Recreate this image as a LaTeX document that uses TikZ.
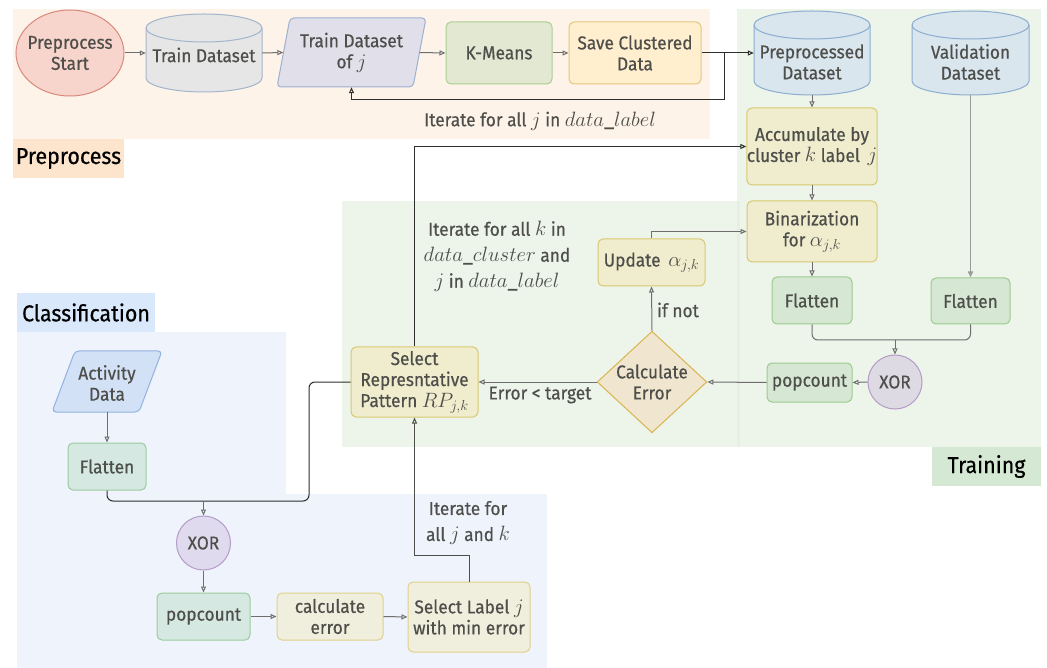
\documentclass[tikz,border=0pt]{standalone}
\usepackage{fontspec}
\setmainfont{Fira Sans}[UprightFeatures={FakeBold=0.5,FakeStretch=0.93}]
\usetikzlibrary{arrows.meta,shapes.geometric,calc}
\definecolor{txt}{HTML}{4E4E4A}
\definecolor{edge}{HTML}{6E6E6E}
\definecolor{dark}{HTML}{2E2E2E}
\definecolor{vline}{HTML}{9A9A9A}
\definecolor{pbg}{HTML}{FDF3E9}
\definecolor{plab}{HTML}{FDE4CC}
\definecolor{gbg}{HTML}{EDF4EA}
\definecolor{gseam}{HTML}{E6EFE2}
\definecolor{glab}{HTML}{D5E8D4}
\definecolor{bbg}{HTML}{EEF3FC}
\definecolor{blab}{HTML}{DAE8FC}
\definecolor{startf}{HTML}{F8D5CC}
\definecolor{startd}{HTML}{D9897B}
\definecolor{cylg}{HTML}{E6E6E6}
\definecolor{cylgd}{HTML}{A3B4CC}
\definecolor{paraf}{HTML}{E1DFEA}
\definecolor{parad}{HTML}{9DB0D0}
\definecolor{kmf}{HTML}{E3E8D2}
\definecolor{kmd}{HTML}{AACF90}
\definecolor{savef}{HTML}{FFEFCF}
\definecolor{saved}{HTML}{E5C57E}
\definecolor{cylb}{HTML}{D9E6EE}
\definecolor{cylbd}{HTML}{8DADD0}
\definecolor{yelf}{HTML}{EFEDCE}
\definecolor{yeld}{HTML}{D8C96F}
\definecolor{grnf}{HTML}{D6E8D3}
\definecolor{grnd}{HTML}{9CCB8D}
\definecolor{xorf}{HTML}{DDDAE4}
\definecolor{xord}{HTML}{B49CC6}
\definecolor{xorcf}{HTML}{E0DAEE}
\definecolor{diaf}{HTML}{F0E6CF}
\definecolor{diad}{HTML}{D9B44E}
\definecolor{actf}{HTML}{D3E1F7}
\definecolor{actd}{HTML}{92B2E0}
\definecolor{popcf}{HTML}{D5E8E2}
\definecolor{popcd}{HTML}{9BCB9C}
\definecolor{cerrf}{HTML}{F0EEDD}
\definecolor{cerrd}{HTML}{E0D18A}
\newcommand\mth[1]{{\fontsize{20.74}{24}\selectfont$#1$}}
\tikzset{
  base/.style={line width=1pt, align=center, text=txt, font=\fontsize{18.6}{21}\selectfont, inner sep=0pt},
  rbox/.style={base, draw, rounded corners=5pt},
  arr/.style={draw=edge, line width=1pt, -{Triangle[open,length=6pt,width=5pt]}},
  ln/.style={draw=edge, line width=1pt},
  dk/.style={draw=dark},
  lbl/.style={align=center, text=txt, font=\fontsize{18.6}{26}\selectfont, inner sep=0pt},
  reglabel/.style={font=\fontsize{23}{25}\selectfont, text=black, inner sep=0pt}
}
% cylinder: name, x1, y1, x2, y2, fill, draw
\newcommand\mycyl[7]{%
  \pgfmathsetmacro\cylrx{(#4-#2)/2}%
  \pgfmathsetmacro\cylta{#3+14}%
  \pgfmathsetmacro\cylba{#5-14}%
  \pgfmathsetmacro\cylcx{(#2+#4)/2}%
  \pgfmathsetmacro\cylcy{(#3+#5)/2}%
  \pgfmathsetmacro\cylw{#4-#2}%
  \pgfmathsetmacro\cylh{#5-#3}%
  \filldraw[fill=#6,draw=#7,line width=1pt] (#2,\cylta) -- (#2,\cylba)
     arc[start angle=180,end angle=0,x radius=\cylrx,y radius=14] -- (#4,\cylta)
     arc[start angle=0,end angle=-180,x radius=\cylrx,y radius=14] -- cycle;
  \draw[draw=#7,line width=1pt] (#4,\cylta) arc[start angle=0,end angle=180,x radius=\cylrx,y radius=14];
  \node[minimum width=\cylw, minimum height=\cylh, inner sep=0pt] (#1) at (\cylcx,\cylcy) {};%
}
% parallelogram: name, x1, y1, x2, y2, slant, fill, draw
\newcommand\mypara[8]{%
  \pgfmathsetmacro\parcx{(#2+#4)/2}%
  \pgfmathsetmacro\parcy{(#3+#5)/2}%
  \pgfmathsetmacro\parw{#4-#2}%
  \pgfmathsetmacro\parh{#5-#3}%
  \filldraw[fill=#7,draw=#8,line width=1pt,rounded corners=4pt] ({#2+#6},#3) -- (#4,#3) -- ({#4-#6},#5) -- (#2,#5) -- cycle;
  \node[minimum width=\parw, minimum height=\parh, inner sep=0pt] (#1) at (\parcx,\parcy) {};%
}
\begin{document}
\begin{tikzpicture}[x=1pt,y=-1pt]
\useasboundingbox (0,0) rectangle (1047,668);
\fill[white] (0,0) rectangle (1047,668);
% ---------- regions
\fill[pbg] (13,9) rectangle (710,139);
\node[reglabel, fill=plab, minimum width=111, minimum height=39] (plabel) at (68.5,158.5) {Preprocess};
\fill[gbg] (737,9) rectangle (1041,447);
\fill[gbg] (342,201) rectangle (737,447);
\fill[gseam] (737,201) rectangle (740,447);
\node[reglabel, fill=glab, minimum width=109, minimum height=39] (tlabel) at (986.5,466.5) {Training};
\fill[bbg] (17,332) rectangle (286,494);
\fill[bbg] (17,494) rectangle (547,668);
\node[reglabel, fill=blab, minimum width=138, minimum height=39] (clabel) at (86,312.5) {Classification};
% ---------- preprocess nodes
\filldraw[fill=startf, draw=startd, line width=1pt] (70,53) ellipse[x radius=54, y radius=43];
\node[base, minimum width=108, minimum height=86] (start) at (70,53) {Preprocess\\Start};
\mycyl{td}{146}{14}{262}{92}{cylg}{cylgd}
\node[base] (tdt) at (204,55) {Train Dataset};
\mypara{tdj}{277}{18}{426}{87}{13}{paraf}{parad}
\node[base] (tdjt) at (351.5,52.5) {Train Dataset\\of \mth{j}};
\node[rbox, fill=kmf, draw=kmd, minimum width=106, minimum height=62] (km) at (499,53) {K-Means};
\node[rbox, fill=savef, draw=saved, minimum width=132, minimum height=62] (save) at (635,53) {Save Clustered\\Data};
% ---------- training nodes
\mycyl{ppd}{754}{11}{870}{95}{cylb}{cylbd}
\node[base] (ppdt) at (812,62) {Preprocessed\\Dataset};
\mycyl{val}{912}{11}{1029}{95}{cylb}{cylbd}
\node[base] (valt) at (970.5,62) {Validation\\Dataset};
\node[rbox, fill=yelf, draw=yeld, minimum width=130, minimum height=77] (acc) at (812,146.5) {Accumulate by\\cluster \mth{k} label\, \mth{j}};
\node[rbox, fill=yelf, draw=yeld, minimum width=130, minimum height=61] (bin) at (812,231.5) {Binarization\\for \mth{\alpha_{j,k}}};
\node[rbox, fill=yelf, draw=yeld, minimum width=107, minimum height=47] (upd) at (651.5,262.5) {Update\, \mth{\alpha_{j,k}}};
\node[rbox, fill=grnf, draw=grnd, minimum width=80, minimum height=47] (flL) at (812,300.5) {Flatten};
\node[rbox, fill=grnf, draw=grnd, minimum width=79, minimum height=46] (flR) at (970.5,301) {Flatten};
\node[base, circle, draw=xord, fill=xorf, minimum size=54] (xorT) at (895,382) {XOR};
\node[rbox, fill=grnf, draw=grnd, minimum width=85, minimum height=39] (popT) at (809.5,382.5) {popcount};
\node[base, diamond, draw=diad, fill=diaf, minimum width=108, minimum height=100, aspect=1.08] (calc) at (652,382) {Calculate\\Error};
\node[rbox, fill=yelf, draw=yeld, minimum width=127, minimum height=70] (srp) at (414.5,382) {Select\\Represntative\\Pattern \mth{RP_{j,k}}};
% ---------- classification nodes
\mypara{act}{52}{351}{162}{412}{23}{actf}{actd}
\node[base] (actt) at (107,383) {Activity\\Data};
\node[rbox, fill=popcf, draw=popcd, minimum width=78, minimum height=47] (flC) at (107,466.5) {Flatten};
\node[base, circle, draw=xord, fill=xorcf, minimum size=54] (xorC) at (203.5,543) {XOR};
\node[rbox, fill=popcf, draw=popcd, minimum width=93, minimum height=47] (popC) at (203.5,616.5) {popcount};
\node[rbox, fill=cerrf, draw=cerrd, minimum width=106, minimum height=47] (cerr) at (330,616.5) {calculate\\error};
\node[rbox, fill=cerrf, draw=cerrd, minimum width=122, minimum height=70] (sl) at (469,617) {Select Label \mth{j}\\with min error};
% ---------- free labels
\node[lbl] (it1) at (540,121) {Iterate for all \mth{j} in \mth{data\_label}};
\node[lbl] (it2) at (497,256.5) {Iterate for all \mth{k} in\\\mth{data\_cluster} and\\\mth{j} in \mth{data\_label}};
\node[lbl] (ifn) at (678,310) {if not};
\node[lbl] (err) at (540,395) {Error < target};
\node[lbl] (it3) at (468,523) {Iterate for\\all \mth{j} and \mth{k}};
% ---------- connectors: preprocess
\draw[arr] (start.east) -- (td.west);
\draw[arr] (td.east) -- ($(tdj.west)+(6.5,0)$);
\draw[arr] ($(tdj.east)+(-6.5,0)$) -- (km.west);
\draw[arr] (km.east) -- (save.west);
\draw[arr,dk] (save.east) -- (save.east -| ppd.west);
\coordinate (lp) at (724,100);
\draw[arr,dk] (save.east -| lp) -- (lp) -- (lp -| tdj.south) -- (tdj.south);
% ---------- connectors: training
\draw[arr] (ppd.south) -- (acc.north);
\draw[arr] (acc.south) -- (bin.north);
\draw[arr] (bin.south) -- (flL.north);
\draw[arr,draw=vline,line width=1.6pt] (val.south) -- (flR.north);
\coordinate (jT) at (895,340);
\draw[ln,rounded corners=6pt] (flL.south) |- (jT) -| (flR.south);
\draw[arr] (jT) -- (xorT.north);
\draw[arr] (xorT.west) -- (popT.east);
\draw[arr] (popT.west) -- (calc.east);
\draw[arr] (calc.west) -- (srp.east);
\draw[arr] (calc.north) -- (upd.south);
\draw[arr] (upd.north) |- (bin.west);
\draw[arr,dk] (srp.north) |- (acc.west);
% ---------- connectors: classification
\draw[arr] (act.south) -- (flC.north);
\coordinate (jC) at (203.5,501);
\coordinate (cC) at (309,501);
\draw[ln,dk,rounded corners=6pt] (flC.south) |- (jC);
\draw[ln,dk,rounded corners=6pt] (srp.west) -| (cC) -- (jC);
\draw[arr] (jC) -- (xorC.north);
\draw[arr] (xorC.south) -- (popC.north);
\draw[arr] (popC.east) -- (cerr.west);
\draw[arr] (cerr.east) -- (sl.west);
\coordinate (lC) at (414.5,555);
\draw[arr,draw=txt] (sl.north) |- (lC) -- (srp.south);
\end{tikzpicture}
\end{document}
